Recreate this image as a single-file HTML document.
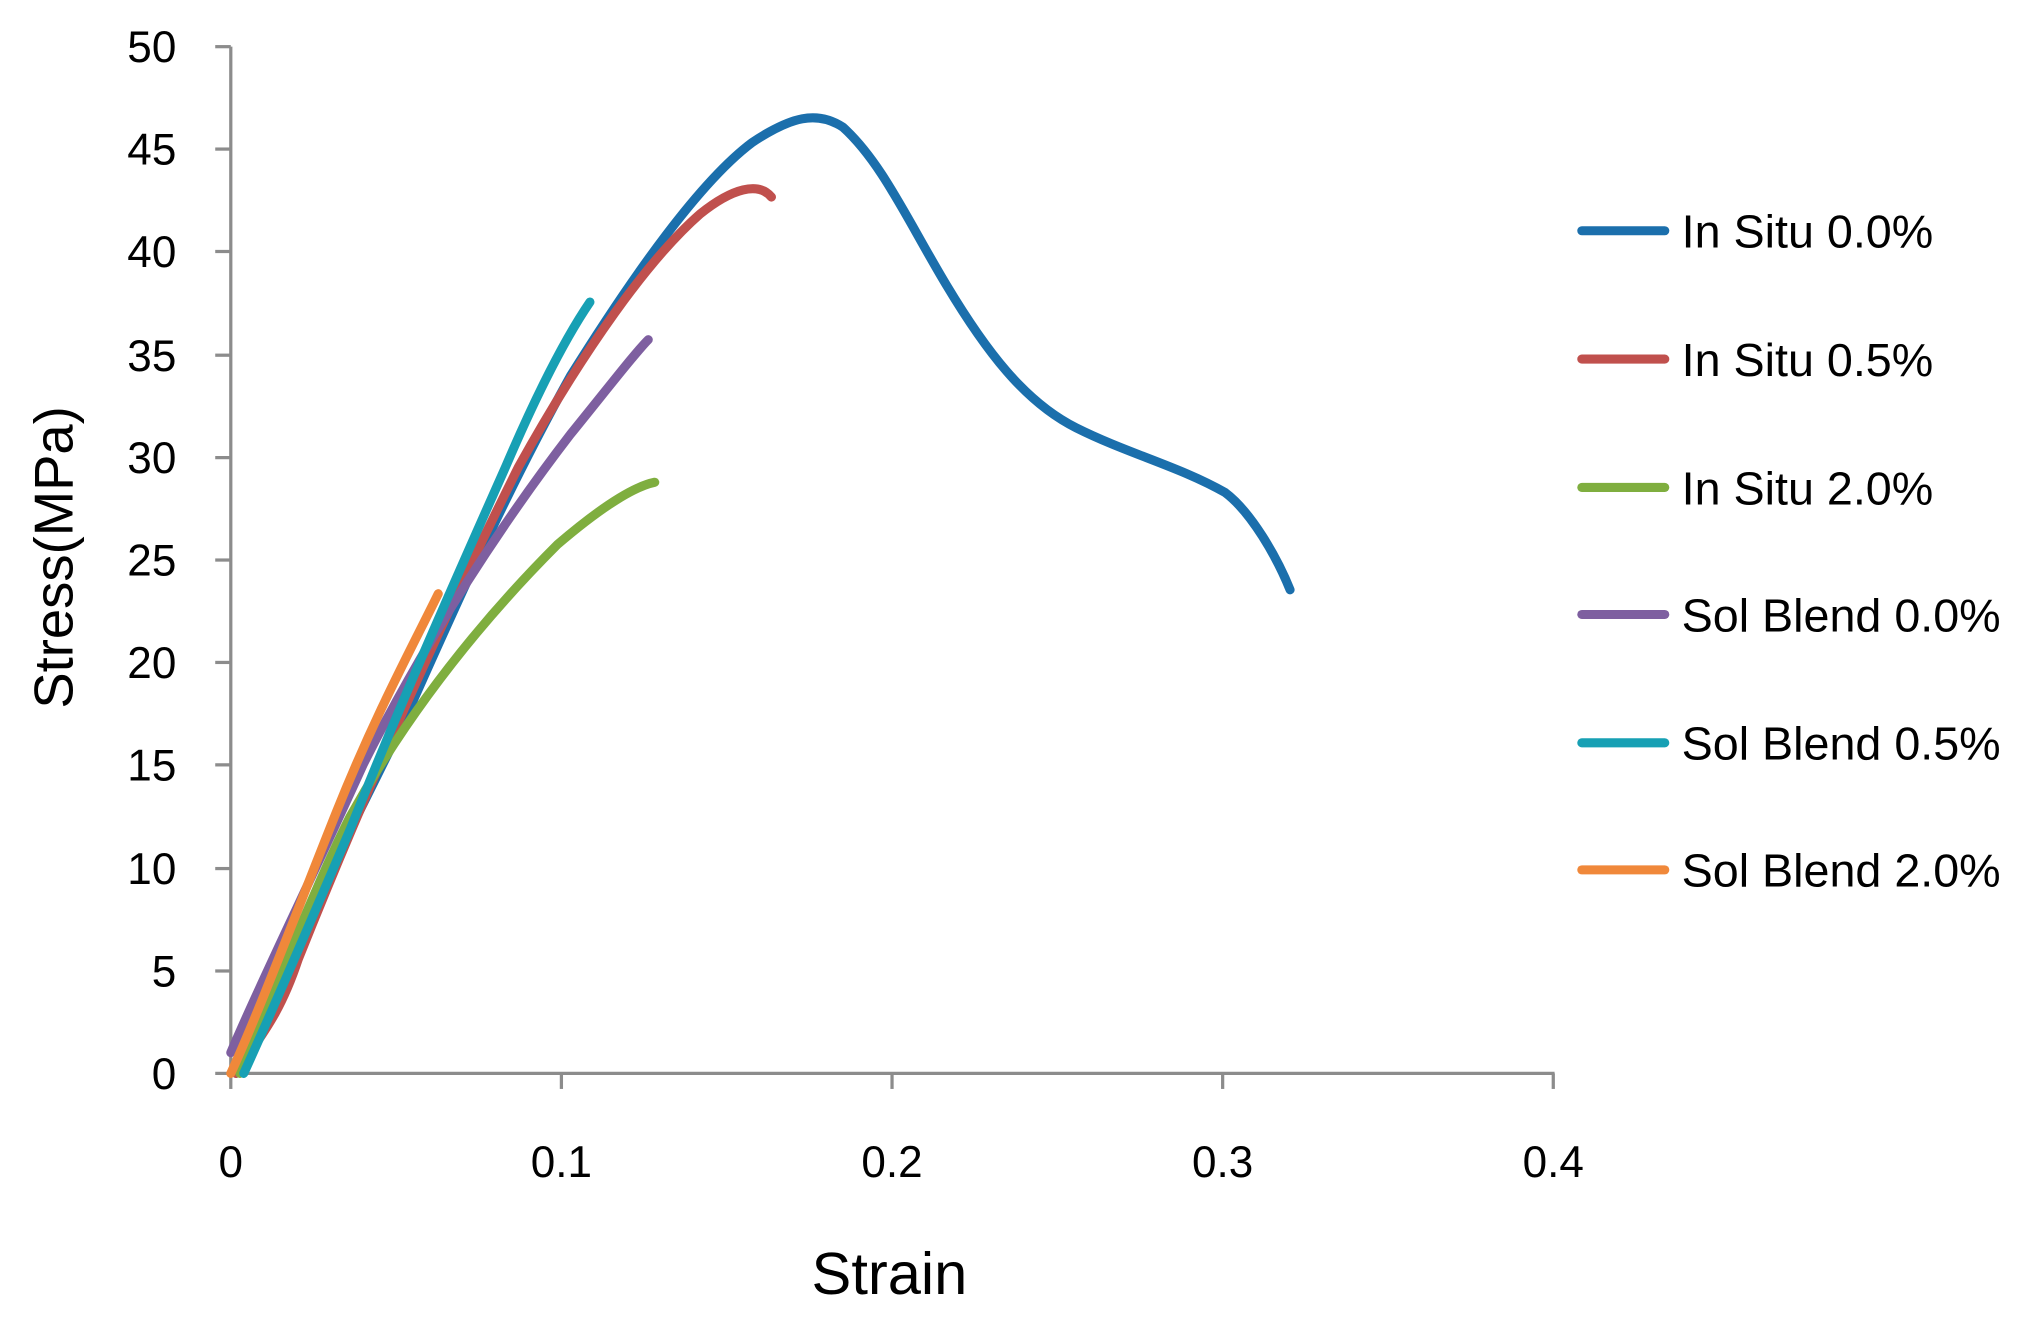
<!DOCTYPE html>
<html><head><meta charset="utf-8"><style>
html,body{margin:0;padding:0;background:#fff;width:2033px;height:1321px;overflow:hidden}
svg{display:block}
text{font-family:"Liberation Sans",sans-serif;fill:#000}
</style></head><body>
<svg width="2033" height="1321" viewBox="0 0 1568 1019" preserveAspectRatio="none">
<g stroke="#8c8c8c" stroke-width="2.5" fill="none">
<line x1="178" y1="36" x2="178" y2="828"/>
<line x1="178" y1="828" x2="1199" y2="828"/>
<line x1="166" y1="36" x2="178" y2="36"/>
<line x1="166" y1="115" x2="178" y2="115"/>
<line x1="166" y1="194" x2="178" y2="194"/>
<line x1="166" y1="274" x2="178" y2="274"/>
<line x1="166" y1="353" x2="178" y2="353"/>
<line x1="166" y1="432" x2="178" y2="432"/>
<line x1="166" y1="511" x2="178" y2="511"/>
<line x1="166" y1="590" x2="178" y2="590"/>
<line x1="166" y1="670" x2="178" y2="670"/>
<line x1="166" y1="749" x2="178" y2="749"/>
<line x1="166" y1="828" x2="178" y2="828"/>
<line x1="178" y1="828" x2="178" y2="840"/>
<line x1="433" y1="828" x2="433" y2="840"/>
<line x1="688" y1="828" x2="688" y2="840"/>
<line x1="943" y1="828" x2="943" y2="840"/>
<line x1="1198" y1="828" x2="1198" y2="840"/>
</g>
<g font-size="34" text-anchor="end">
<text x="136" y="48">50</text><text x="136" y="127">45</text><text x="136" y="206">40</text>
<text x="136" y="286">35</text><text x="136" y="365">30</text><text x="136" y="444">25</text>
<text x="136" y="523">20</text><text x="136" y="602">15</text><text x="136" y="682">10</text>
<text x="136" y="761">5</text><text x="136" y="840">0</text>
</g>
<g font-size="34" text-anchor="middle">
<text x="178" y="908">0</text><text x="433" y="908">0.1</text><text x="688" y="908">0.2</text>
<text x="943" y="908">0.3</text><text x="1198" y="908">0.4</text>
</g>
<text x="686" y="998" font-size="46" text-anchor="middle">Strain</text>
<text transform="translate(56,430) rotate(-90)" font-size="42" text-anchor="middle">Stress(MPa)</text>
<g fill="none" stroke-width="7" stroke-linecap="round" stroke-linejoin="round">
<path stroke="#1b6fac" d="M182,828 C220,740 270,640 310,560 C350,470 390,380 440,290 C490,210 540,140 580,110 C610,90 630,85 650,98 C680,125 700,170 730,220 C760,270 790,310 830,330 C870,350 910,360 945,380 C965,395 985,430 995,455"/>
<path stroke="#c0504d" d="M182,828 C200,800 215,785 230,740 C270,640 330,500 400,360 C450,270 500,200 540,165 C565,145 585,140 595,152"/>
<path stroke="#7fae3f" d="M185,828 C210,770 240,690 270,630 C320,540 380,470 430,420 C465,390 490,375 505,372"/>
<path stroke="#7e5fa0" d="M178,812 C200,760 230,700 280,590 C330,490 390,400 440,335 C470,298 490,272 500,262"/>
<path stroke="#17a0b4" d="M188,828 C210,780 240,710 270,640 C310,540 350,450 390,360 C420,290 440,255 455,233"/>
<path stroke="#f0883a" d="M178,828 C200,780 230,700 260,625 C290,550 320,495 338,458"/>
</g>
<g stroke-width="7" stroke-linecap="round">
<line x1="1220" y1="178" x2="1284" y2="178" stroke="#1b6fac"/>
<line x1="1220" y1="277" x2="1284" y2="277" stroke="#c0504d"/>
<line x1="1220" y1="376" x2="1284" y2="376" stroke="#7fae3f"/>
<line x1="1220" y1="474" x2="1284" y2="474" stroke="#7e5fa0"/>
<line x1="1220" y1="573" x2="1284" y2="573" stroke="#17a0b4"/>
<line x1="1220" y1="671" x2="1284" y2="671" stroke="#f0883a"/>
</g>
<g font-size="36">
<text x="1297" y="191">In Situ 0.0%</text>
<text x="1297" y="290">In Situ 0.5%</text>
<text x="1297" y="389">In Situ 2.0%</text>
<text x="1297" y="487">Sol Blend 0.0%</text>
<text x="1297" y="586">Sol Blend 0.5%</text>
<text x="1297" y="684">Sol Blend 2.0%</text>
</g>
</svg>
</body></html>
